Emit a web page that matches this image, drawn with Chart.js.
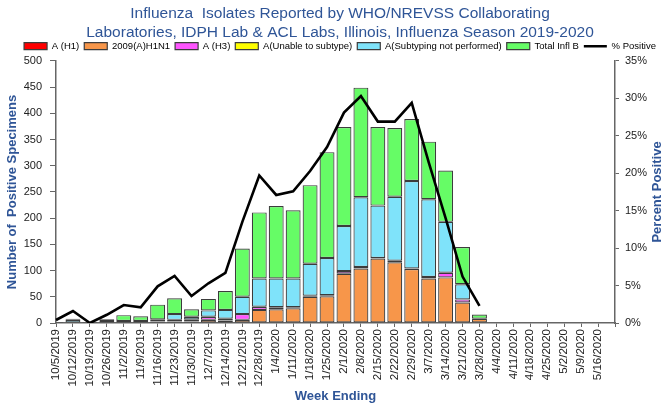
<!DOCTYPE html>
<html>
<head>
<meta charset="utf-8">
<script src="https://cdn.jsdelivr.net/npm/chart.js@4"></script>
<style>
  html, body { margin: 0; padding: 0; background: #fff; overflow: hidden; }
  #wrap { width: 680px; height: 406px; }
</style>
</head>
<body>
<div id="wrap"><canvas id="fluChart" width="680" height="406"></canvas></div>
<script>
// Week ending labels (last slot is an empty category, like the source chart)
const weeks = ['10/5/2019', '10/12/2019', '10/19/2019', '10/26/2019', '11/2/2019', '11/9/2019',
    '11/16/2019', '11/23/2019', '11/30/2019', '12/7/2019', '12/14/2019', '12/21/2019', '12/28/2019',
    '1/4/2020', '1/11/2020', '1/18/2020', '1/25/2020', '2/1/2020', '2/8/2020', '2/15/2020',
    '2/22/2020', '2/29/2020', '3/7/2020', '3/14/2020', '3/21/2020', '3/28/2020', '4/4/2020',
    '4/11/2020', '4/18/2020', '4/25/2020', '5/2/2020', '5/9/2020', '5/16/2020', ''];

// Positive specimens by type
const aH1 = [0, 0, 0, 0, 0, 0, 0, 0, 0, 0, 0, 0, 0, 0, 0, 0, 0, 0, 0, 0, 0, 0, 0, 0, 0, 0, 0, 0, 0, 0, 0, 0, 0, 0];
const h1n1 = [0, 0, 0, 1, 1, 1, 2, 3, 3, 6, 5, 6, 25, 26, 28, 50, 51, 94, 104, 123, 116, 103, 85, 87, 39, 8, 0, 0, 0, 0, 0, 0, 0, 0];
const aH3 = [0, 0, 0, 1, 1, 1, 1, 3, 4, 6, 3, 11, 6, 4, 2, 2, 2, 5, 3, 1, 3, 1, 3, 9, 6, 0, 0, 0, 0, 0, 0, 0, 0, 0];
const unableSubtype = [0, 0, 0, 0, 0, 0, 0, 0, 0, 0, 0, 0, 0, 0, 0, 0, 0, 0, 0, 0, 0, 0, 0, 0, 0, 0, 0, 0, 0, 0, 0, 0, 0, 0];
const notSubtyped = [0, 6, 1, 2, 2, 2, 4, 11, 5, 12, 17, 33, 54, 55, 55, 61, 71, 86, 133, 100, 122, 167, 148, 97, 29, 0, 0, 0, 0, 0, 0, 0, 0, 0];
const fluB = [2, 2, 1, 3, 11, 9, 28, 30, 14, 22, 36, 92, 126, 138, 130, 150, 202, 189, 209, 150, 131, 118, 110, 98, 71, 8, 0, 0, 0, 0, 0, 0, 0, 0];

// Percent positive (right axis)
const pctPositive = [0.4, 1.6, 0, 1.1, 2.4, 2.1, 4.9, 6.3, 3.6, 5.3, 6.7, 13.5, 19.7, 17.1, 17.6, 20.3,
    23.5, 28.1, 30.3, 26.9, 26.9, 29.4, 21.5, 14.0, 6.2, 2.3, null, null, null, null, null, null, null, null];

const FONT = '"Liberation Sans", Arial, sans-serif';
const titleBlue = '#2f5597';
const edge = '#3c3c3c';
const axisGrey = '#666';

function barSet(label, data, color) {
    return {
        type: 'bar',
        label: label,
        data: data,
        backgroundColor: color,
        borderColor: edge,
        borderWidth: 1.2,
        borderSkipped: false,
        pointStyle: 'rect',
        yAxisID: 'y',
        order: 1,
        categoryPercentage: 1,
        barPercentage: 0.88,
    };
}

// Right axis title reads bottom-to-top and runs off the edge
const rightTitle = {
    id: 'rightTitle',
    afterDraw(chart) {
        const { ctx, chartArea } = chart;
        ctx.save();
        ctx.translate(657, (chartArea.top + chartArea.bottom) / 2);
        ctx.rotate(-Math.PI / 2);
        ctx.font = 'bold 13px ' + FONT;
        ctx.fillStyle = titleBlue;
        ctx.textAlign = 'center';
        ctx.textBaseline = 'middle';
        ctx.fillText('Percent Positive', 0, 0);
        ctx.restore();
    }
};

const ctx = document.getElementById('fluChart').getContext('2d');
const fluChart = new Chart(ctx, {
    type: 'bar',
    data: {
        labels: weeks,
        datasets: [
            barSet('A (H1)', aH1, '#ff0000'),
            barSet('2009(A)H1N1', h1n1, '#f7964a'),
            barSet('A (H3)', aH3, '#ff55ff'),
            barSet('A(Unable to subtype)', unableSubtype, '#ffff00'),
            barSet('A(Subtyping not performed)', notSubtyped, '#7fe3fa'),
            barSet('Total Infl B', fluB, '#66fc66'),
            {
                type: 'line',
                label: '% Positive',
                data: pctPositive,
                borderColor: '#000',
                backgroundColor: '#000',
                borderWidth: 2.6,
                pointRadius: 0,
                pointStyle: 'line',
                tension: 0,
                yAxisID: 'y1',
                order: 0,
            },
        ],
    },
    options: {
        responsive: false,
        animation: false,
        devicePixelRatio: 1,
        layout: { padding: { top: 0, bottom: 0, left: 0, right: 0 } },
        plugins: {
            title: {
                display: true,
                text: ['Influenza  Isolates Reported by WHO/NREVSS Collaborating',
                    'Laboratories, IDPH Lab & ACL Labs, Illinois, Influenza Season 2019-2020'],
                color: titleBlue,
                font: { family: FONT, size: 15.5, weight: 'normal', lineHeight: 1.24 },
                padding: { top: 4, bottom: -6 },
            },
            legend: {
                display: true,
                labels: {
                    usePointStyle: true,
                    pointStyleWidth: 23,
                    boxHeight: 7,
                    padding: 5,
                    color: '#000',
                    font: { family: FONT, size: 9.5 },
                    sort: (a, b) => a.datasetIndex - b.datasetIndex,
                },
            },
            tooltip: { enabled: false },
        },
        scales: {
            x: {
                stacked: true,
                offset: false,
                grid: { display: true, drawOnChartArea: false, drawTicks: true, tickLength: 4, color: axisGrey, offset: false },
                border: { display: true, color: axisGrey, width: 1.5 },
                ticks: {
                    autoSkip: false,
                    maxRotation: 90,
                    minRotation: 90,
                    padding: 2,
                    color: '#222',
                    font: { family: FONT, size: 11.5 },
                },
                title: {
                    display: true,
                    text: 'Week Ending',
                    color: titleBlue,
                    font: { family: FONT, size: 13, weight: 'bold' },
                    padding: { top: 0, bottom: 2 },
                },
                afterFit(scale) { scale.height = 83; },
            },
            y: {
                stacked: true,
                position: 'left',
                min: 0,
                max: 500,
                grid: { display: true, drawOnChartArea: false, drawTicks: true, tickLength: 6, color: axisGrey },
                border: { display: true, color: axisGrey, width: 1.5 },
                ticks: {
                    stepSize: 50,
                    padding: 8,
                    color: '#222',
                    font: { family: FONT, size: 11 },
                },
                title: {
                    display: true,
                    text: 'Number of  Positive Specimens',
                    color: titleBlue,
                    font: { family: FONT, size: 13, weight: 'bold' },
                    padding: { top: 5, bottom: 0 },
                },
                afterFit(scale) { scale.width = 56; },
            },
            y1: {
                position: 'right',
                min: 0,
                max: 35,
                grid: { display: true, drawOnChartArea: false, drawTicks: true, tickLength: 4, color: axisGrey },
                border: { display: true, color: axisGrey, width: 1.5 },
                ticks: {
                    stepSize: 5,
                    padding: 6,
                    color: '#222',
                    font: { family: FONT, size: 11 },
                    callback: (v) => v + '%',
                },
                afterFit(scale) { scale.width = 65; },
            },
        },
    },
    plugins: [rightTitle],
});
</script>
</body>
</html>
